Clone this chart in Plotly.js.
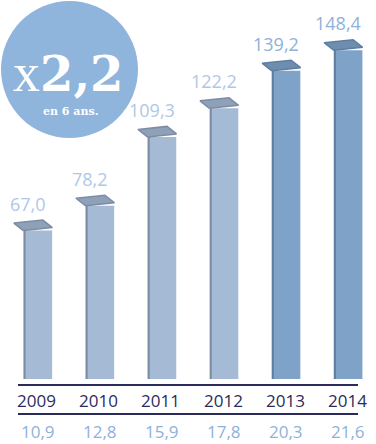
<!DOCTYPE html>
<html>
<head>
<meta charset="utf-8">
<script src="https://cdn.plot.ly/plotly-3.0.1.min.js"></script>
<style>html,body{margin:0;padding:0;background:#fff;}#chart{width:376px;height:444px;}</style>
</head>
<body>
<div id="chart"></div>
<script>
// ---- data ----
const categories = ['2009', '2010', '2011', '2012', '2013', '2014'];
const values = [67.0, 78.2, 109.3, 122.2, 139.2, 148.4];
const valueLabels = ['67,0', '78,2', '109,3', '122,2', '139,2', '148,4'];
const secondRow = ['10,9', '12,8', '15,9', '17,8', '20,3', '21,6'];
const badgeMain = '2,2';
const badgeSub = 'en 6 ans.';

// ---- style ----
const W = 376, H = 444, plotBottom = 379;
const xr = [-0.61, 5.449], yr = [0, 171.1];
const pxX = W / (xr[1] - xr[0]);
const pxY = plotBottom / (yr[1] - yr[0]);
const barW = 0.46;
const isDark = c => Number(c) >= 2013;
const frontLight = '#a5bad4', frontDark = '#7fa3c8';
const topLight = '#8fa1b9', topDark = '#6e8eb0';
const edgeLight = '#7b8ca3', edgeDark = '#5f7d9e';
const labLight = '#afc8e6', labDark = '#8fb1da';
const navy = '#2b2c5c';
const font = 'Open Sans, Noto Sans, Lato, sans-serif';

const xs = categories.map((c, i) => i);

const traces = [];
traces.push({
  type: 'bar', x: xs, y: values, width: barW,
  marker: {color: categories.map(c => isDark(c) ? frontDark : frontLight), line: {width: 0}},
  hoverinfo: 'skip'
});
// left shading edge
categories.forEach((c, i) => {
  const xe = xs[i] - barW / 2 + 1 / pxX;
  traces.push({
    type: 'scatter', mode: 'lines', x: [xe, xe], y: [0, values[i]],
    line: {color: isDark(c) ? edgeDark : edgeLight, width: 2}, hoverinfo: 'skip'
  });
});
// top faces
categories.forEach((c, i) => {
  const cx = xs[i], v = values[i];
  const pts = [[-14.5, 0], [14.5, 3], [5, 10.5], [-24, 7.5]];
  traces.push({
    type: 'scatter', mode: 'lines', fill: 'toself',
    x: pts.map(p => cx + p[0] / pxX).concat([cx + pts[0][0] / pxX]),
    y: pts.map(p => v + p[1] / pxY).concat([v + pts[0][1] / pxY]),
    fillcolor: isDark(c) ? topDark : topLight,
    line: {color: isDark(c) ? edgeDark : edgeLight, width: 1.5},
    hoverinfo: 'skip'
  });
});

const annotations = [];
categories.forEach((c, i) => {
  annotations.push({
    x: xs[i], y: values[i], xref: 'x', yref: 'y', text: valueLabels[i],
    showarrow: false, xshift: -10, yshift: 27, yanchor: 'middle',
    font: {family: font, size: 18, color: isDark(c) ? labDark : labLight}
  });
  annotations.push({
    x: xs[i], y: (plotBottom - 400) / plotBottom, xref: 'x', yref: 'paper', text: c,
    showarrow: false, xshift: -1, yanchor: 'middle',
    font: {family: font, size: 17, color: navy}
  });
  annotations.push({
    x: xs[i], y: (plotBottom - 431) / plotBottom, xref: 'x', yref: 'paper', text: secondRow[i],
    showarrow: false, yanchor: 'middle',
    font: {family: font, size: 17, color: labDark}
  });
});
annotations.push({
  x: 68 / W, y: (plotBottom - 73) / plotBottom, xref: 'paper', yref: 'paper',
  text: '<span style="font-family:Liberation Serif;font-size:54px">x</span><b>' + badgeMain + '</b>',
  showarrow: false, xanchor: 'center', yanchor: 'middle',
  font: {family: 'DejaVu Serif', size: 48, color: '#ffffff'}
});
annotations.push({
  x: 70 / W, y: (plotBottom - 112) / plotBottom, xref: 'paper', yref: 'paper',
  text: '<b>' + badgeSub + '</b>', showarrow: false, xanchor: 'center', yanchor: 'middle',
  font: {family: 'DejaVu Serif', size: 11, color: '#ffffff'}
});

const shapes = [
  {type: 'circle', xref: 'paper', yref: 'paper', x0: 1 / W, x1: 138 / W,
   y0: (plotBottom - 138) / plotBottom, y1: (plotBottom - 1) / plotBottom,
   fillcolor: '#8fb5dd', line: {width: 0}, layer: 'below'},
  {type: 'line', xref: 'paper', yref: 'paper', x0: 18 / W, x1: 358 / W,
   y0: (plotBottom - 385) / plotBottom, y1: (plotBottom - 385) / plotBottom,
   line: {color: navy, width: 2}},
  {type: 'line', xref: 'paper', yref: 'paper', x0: 18 / W, x1: 358 / W,
   y0: (plotBottom - 414) / plotBottom, y1: (plotBottom - 414) / plotBottom,
   line: {color: navy, width: 2}}
];

const layout = {
  width: W, height: H,
  margin: {l: 0, r: 0, t: 0, b: H - plotBottom, pad: 0},
  paper_bgcolor: '#ffffff', plot_bgcolor: 'rgba(0,0,0,0)',
  showlegend: false,
  xaxis: {range: xr, visible: false, fixedrange: true},
  yaxis: {range: yr, visible: false, fixedrange: true},
  annotations: annotations, shapes: shapes
};

Plotly.newPlot('chart', traces, layout, {displayModeBar: false, staticPlot: true});
</script>
</body>
</html>
